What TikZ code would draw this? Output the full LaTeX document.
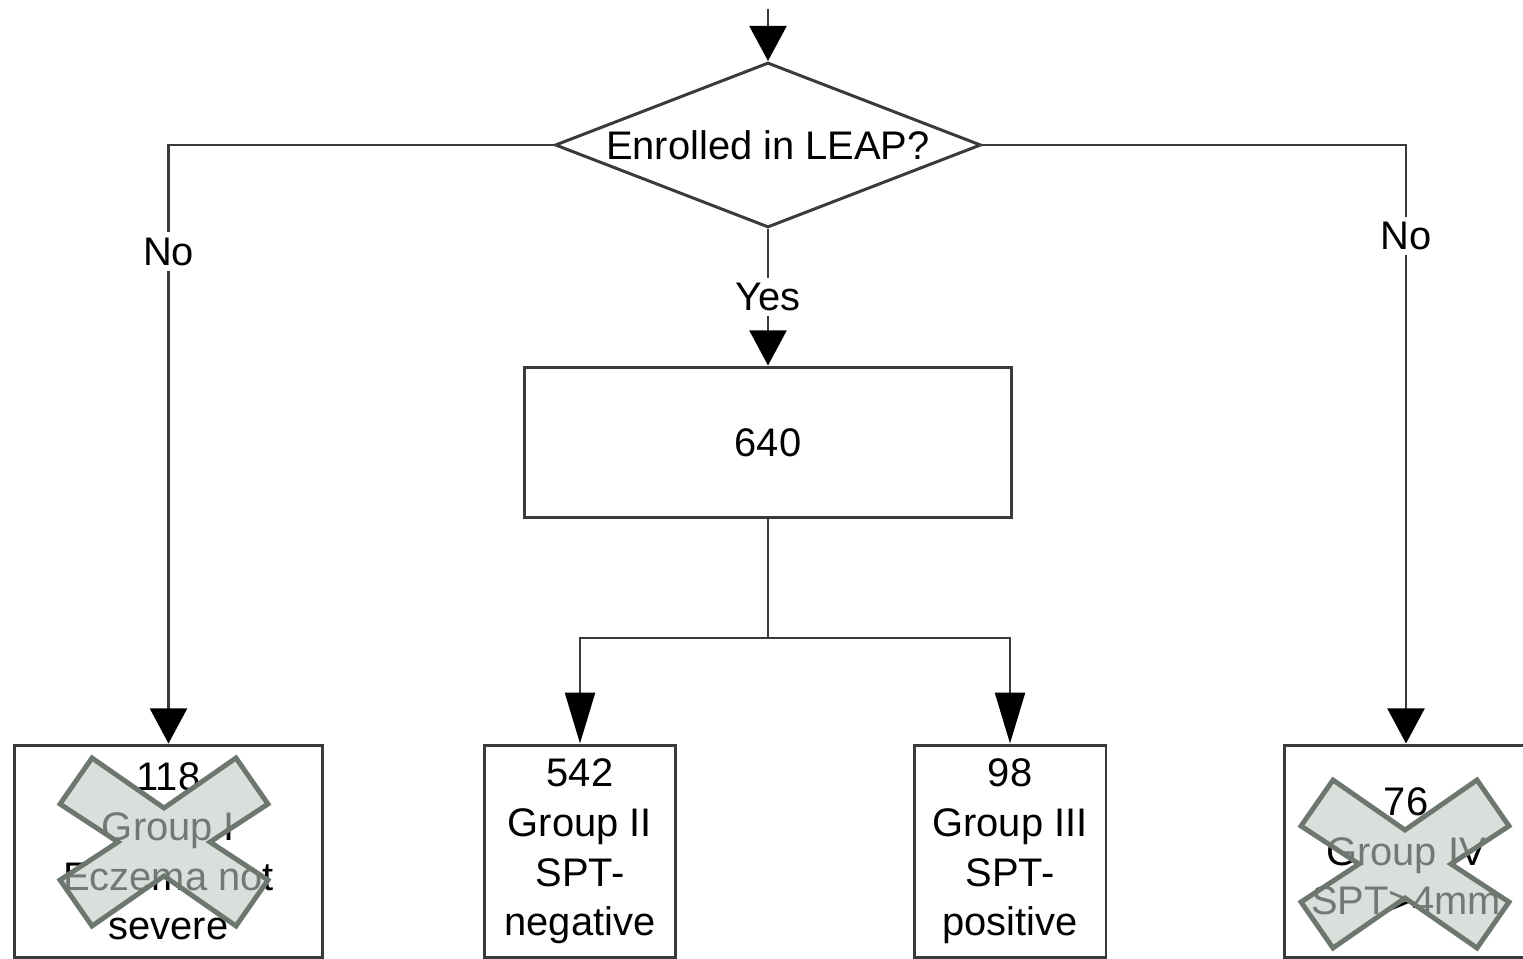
\documentclass[tikz,border=0pt]{standalone}
\usepackage{fontspec}
\setmainfont{Liberation Sans}
\usepackage{tikz}
\usetikzlibrary{arrows.meta,shapes.geometric}
\definecolor{Line}{HTML}{3A3A3A}
\definecolor{CrossFill}{HTML}{C2C9C3}
\definecolor{CrossEdge}{HTML}{6B776F}

\begin{document}
\begin{tikzpicture}[x=0.02cm,y=-0.02cm,
  every node/.style={font=\fontsize{22.7pt}{28.2pt}\selectfont},
  box/.style={draw=Line,line width=1.7pt,align=center,inner sep=2pt},
  lbl/.style={fill=white,inner sep=3pt},
  flow/.style={draw=Line,line width=1.6pt,-{Triangle[width=21pt,length=20pt,color=black]}},
  flowlong/.style={draw=Line,line width=1.6pt,-{Triangle[width=17pt,length=29pt,color=black]}}]
  \useasboundingbox (0,0) rectangle (1523,959);
  \clip (0,0) rectangle (1523,959);

  \node[box,diamond,aspect=2.58,inner sep=0pt,minimum width=8.52cm,minimum height=3.3cm] (enrol) at (768,145) {Enrolled in LEAP?};
  \node[box,minimum width=9.76cm,minimum height=3.02cm] (total) at (768,442.5) {640};
  \node[box,minimum width=6.18cm,minimum height=4.26cm] (grpI) at (168.5,851.5) {118\\Group I\\Eczema not\\severe};
  \node[box,minimum width=3.84cm,minimum height=4.26cm] (grpII) at (580,851.5) {542\\Group II\\SPT-\\negative};
  \node[box,minimum width=3.84cm,minimum height=4.26cm] (grpIII) at (1010,851.5) {98\\Group III\\SPT-\\positive};
  \node[box,minimum width=4.88cm,minimum height=4.26cm] (grpIV) at (1406,851.5) {76\\Group IV\\SPT>4mm};

  \coordinate (entry) at (768,9);
  \coordinate (split) at (768,638);
  \draw[flow] (entry) -- (enrol.north);
  \draw[flow] (enrol.west) -| node[lbl,pos=0.589]{No} (grpI.north);
  \draw[flow] (enrol.east) -| node[lbl,pos=0.576]{No} (grpIV.north);
  \draw[flow] (enrol.south) -- node[lbl]{Yes} (total.north);
  \draw[draw=Line,line width=1.6pt] (total.south) -- (split);
  \draw[flowlong] (split) -| (grpII.north);
  \draw[flowlong] (split) -| (grpIII.north);

  % excluded groups
  \foreach \cx/\cy in {164/842,1405/864}
    \filldraw[draw=CrossEdge,fill=CrossFill,fill opacity=0.6,line width=2.8pt,shift={(\cx,\cy)}]
      (-72,-84) -- (0,-34) -- (72,-84) -- (104,-38) -- (46,0) -- (104,38) -- (72,84)
      -- (0,34) -- (-72,84) -- (-104,38) -- (-46,0) -- (-104,-38) -- cycle;
\end{tikzpicture}
\end{document}
